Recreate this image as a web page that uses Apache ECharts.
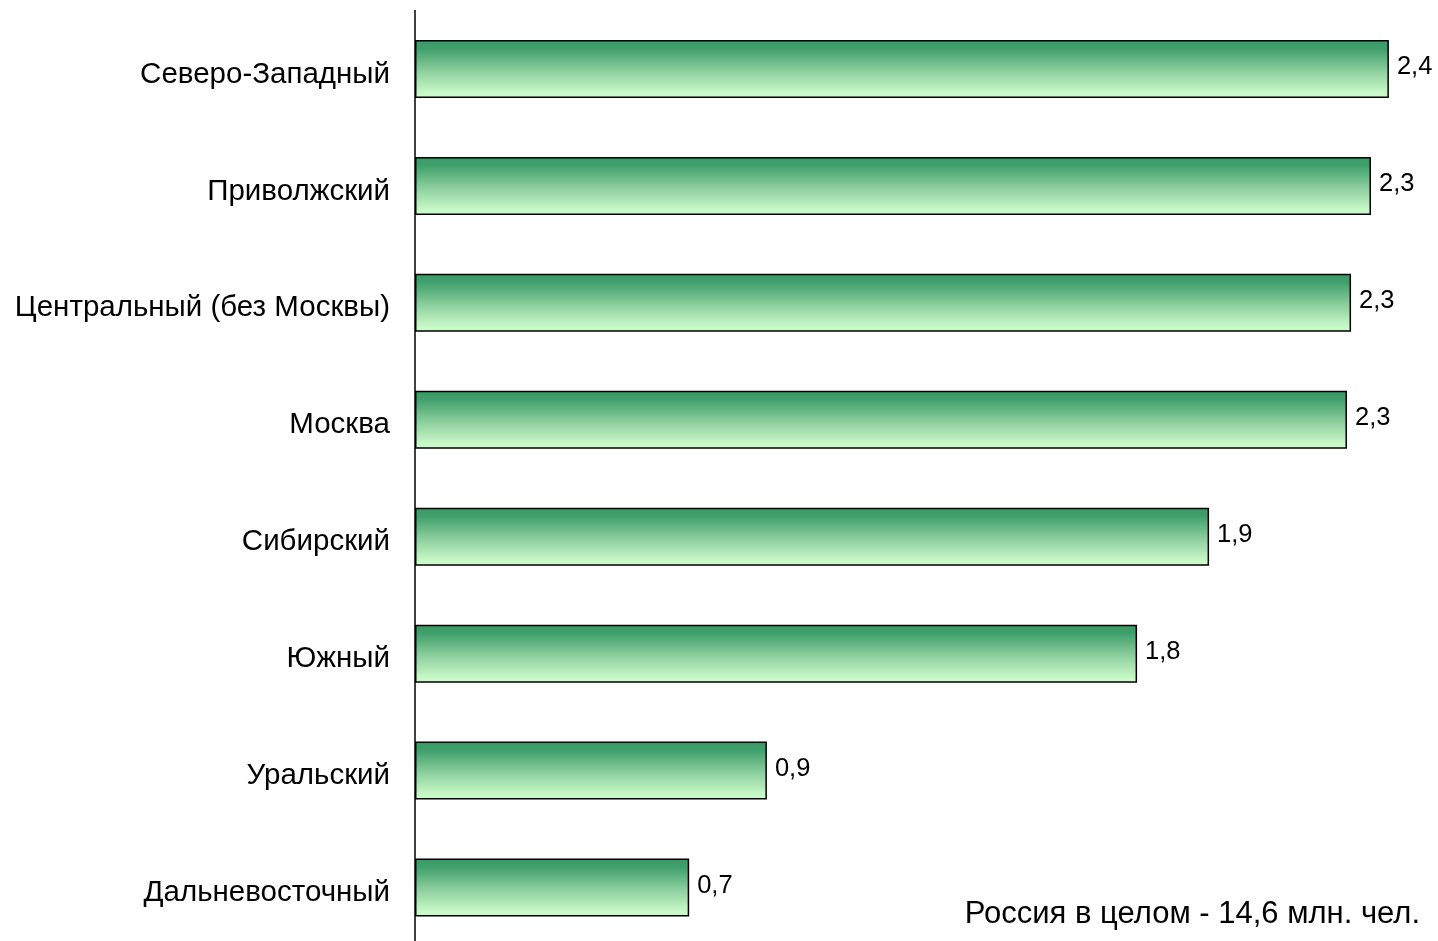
<!DOCTYPE html>
<html>
<head>
<meta charset="utf-8">
<script src="https://cdn.jsdelivr.net/npm/echarts@6/dist/echarts.min.js"></script>
<style>
html,body{margin:0;padding:0;background:#fff;}
#chart{width:1438px;height:941px;}
</style>
</head>
<body>
<div id="chart"></div>
<script>
// Data (top to bottom as displayed)
const categories = ["Северо-Западный","Приволжский","Центральный (без Москвы)","Москва","Сибирский","Южный","Уральский","Дальневосточный"];
const values = [2.394, 2.350, 2.301, 2.291, 1.952, 1.775, 0.865, 0.674];
const valueLabels = ["2,4","2,3","2,3","2,3","1,9","1,8","0,9","0,7"];
const noteText = "Россия в целом - 14,6 млн. чел.";

const FONT = "Liberation Sans, Arial, sans-serif";
const chart = echarts.init(document.getElementById('chart'), null, {renderer:'canvas'});
const gradient = new echarts.graphic.LinearGradient(0,0,0,1,[
  {offset:0, color:'#3a9966'},
  {offset:0.15, color:'#40a06c'},
  {offset:0.55, color:'#8fd0a0'},
  {offset:0.9, color:'#c6f8c6'},
  {offset:1, color:'#ccffcc'}
]);
chart.setOption({
  animation:false,
  backgroundColor:'#ffffff',
  grid:{left:415, width:1017, top:10.5, height:935.5, containLabel:false, outerBoundsMode:'none'},
  xAxis:{type:'value', min:0, max:2.5, show:false},
  yAxis:{
    type:'category',
    data:categories,
    inverse:true,
    axisLine:{show:true, lineStyle:{color:'#000', width:1.5}},
    axisTick:{show:false},
    axisLabel:{color:'#000', fontFamily:FONT, fontSize:29.5, margin:25, verticalAlign:'top', lineHeight:11},
    splitLine:{show:false}
  },
  series:[{
    type:'bar',
    data:values,
    barWidth:58,
    itemStyle:{color:gradient, borderColor:'#000', borderWidth:1.5},
    label:{
      show:true, position:'right', distance:8,
      color:'#000', fontFamily:FONT, fontSize:25.5,
      formatter:p=>valueLabels[p.dataIndex],
      offset:[0,-2]
    }
  }],
  graphic:[{
    type:'text', right:18, top:899,
    style:{text:noteText, fill:'#000', font:'31px '+FONT, textAlign:'right'}
  }]
});
</script>
</body>
</html>
